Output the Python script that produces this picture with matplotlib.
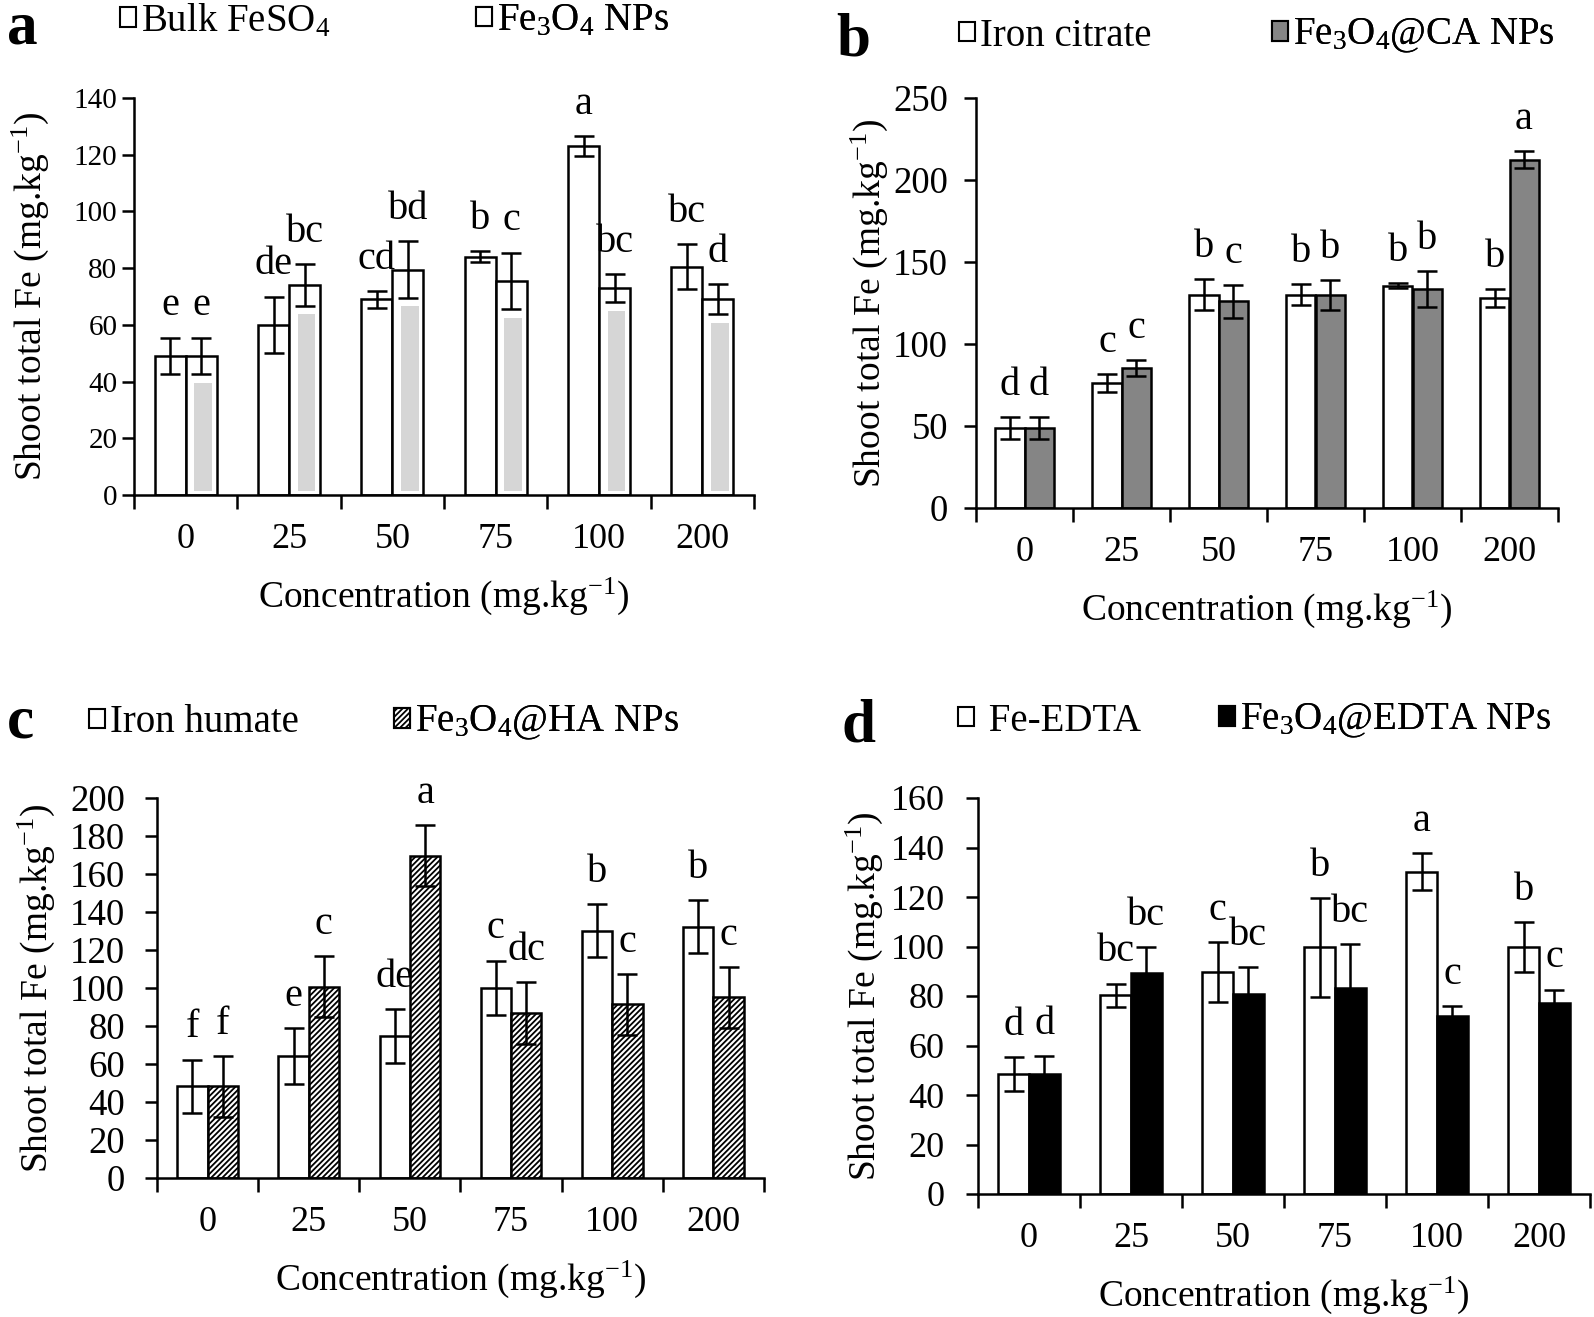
import matplotlib
matplotlib.use('Agg')
import matplotlib.pyplot as plt
import numpy as np
from matplotlib.patches import Patch

plt.rcParams['font.family'] = ['Liberation Serif', 'DejaVu Serif']
plt.rcParams['mathtext.fontset'] = 'custom'
plt.rcParams['mathtext.rm'] = 'Liberation Serif'
plt.rcParams['mathtext.it'] = 'Liberation Serif:italic'
plt.rcParams['mathtext.bf'] = 'Liberation Serif:bold'
plt.rcParams['hatch.linewidth'] = 1.3

categories = ['0', '25', '50', '75', '100', '200']

a_bulk = [49, 60, 69, 84, 123, 80.5]
a_bulk_err = [6.5, 10, 3, 2, 3.5, 8]
a_np = [49, 74, 79.5, 75.5, 73, 69]
a_np_err = [6.5, 7.3, 10, 10, 5, 5.3]
a_bulk_lab = ['e', 'de', 'cd', 'b', 'a', 'bc']
a_np_lab = ['e', 'bc', 'bd', 'c', 'bc', 'd']

b_cit = [48.8, 76, 130, 130, 135.5, 128]
b_cit_err = [6.7, 5.5, 9.5, 6.5, 1.5, 5.3]
b_ca = [48.8, 85.4, 126, 130, 133.5, 212.4]
b_ca_err = [6.7, 5, 10, 9, 11, 5]
b_cit_lab = ['d', 'c', 'b', 'b', 'b', 'b']
b_ca_lab = ['d', 'c', 'c', 'b', 'b', 'a']

c_hum = [48.3, 64.1, 74.7, 100.2, 130.2, 132.3]
c_hum_err = [14, 14.8, 14.2, 14.2, 14.1, 14]
c_ha = [48.3, 100.7, 169.6, 87, 91.4, 95.1]
c_ha_err = [16, 16, 16, 16.3, 16, 16]
c_hum_lab = ['f', 'e', 'de', 'c', 'b', 'b']
c_ha_lab = ['f', 'c', 'a', 'dc', 'c', 'c']

d_edta = [48.6, 80.3, 89.7, 99.7, 130.2, 99.7]
d_edta_err = [6.8, 4.7, 12, 20, 7.4, 10]
d_np = [48.6, 89.1, 81, 83.2, 71.8, 77]
d_np_err = [7, 10.5, 10.8, 17.7, 4.2, 5.6]
d_edta_lab = ['d', 'bc', 'c', 'b', 'a', 'b']
d_np_lab = ['d', 'bc', 'bc', 'bc', 'c', 'c']

W, H = 1594, 1317
fig = plt.figure(figsize=(W / 100, H / 100), dpi=100)

XTICK_FS = 26
LAB_FS = 27
LET_FS = 29
LEG_FS = 28
PANEL_FS = 44
BW = 0.3
LW = 1.8


def make_axes(left, top, right, bottom):
    return fig.add_axes([left / W, 1 - bottom / H, (right - left) / W, (bottom - top) / H])


def style_axes(ax, ymax, ystep, ylab_off, ytick_fs, ytick_pad):
    ax.set_xlim(-0.5, len(categories) - 0.5)
    ax.set_ylim(0, ymax)
    ax.set_yticks(np.arange(0, ymax + 1, ystep))
    ax.set_xticks(np.arange(len(categories)))
    ax.set_xticklabels(categories, fontsize=XTICK_FS)
    ax.set_xticks(np.arange(-0.5, len(categories)), minor=True)
    ax.tick_params(axis='x', which='major', length=0, pad=20)
    ax.tick_params(axis='x', which='minor', length=10, width=LW, direction='out')
    ax.tick_params(axis='y', length=9, width=LW, direction='out',
                   labelsize=ytick_fs, pad=ytick_pad)
    for s in ['top', 'right']:
        ax.spines[s].set_visible(False)
    for s in ['left', 'bottom']:
        ax.spines[s].set_linewidth(LW)
    ax.set_xlabel('Concentration (mg.kg$^{-1}$)', fontsize=LAB_FS, labelpad=14)
    ax.set_ylabel('Shoot total Fe (mg.kg$^{-1}$)', fontsize=LAB_FS, va='center')
    bbox = ax.get_position()
    ax.yaxis.set_label_coords(-ylab_off / (bbox.width * W), 0.5)


def draw_pair(ax, v1, e1, v2, e2, l1, l2, kw2, kw1=None):
    x = np.arange(len(categories))
    kw1 = kw1 or dict(facecolor='white')
    ax.bar(x - BW / 2, v1, BW, edgecolor='black', linewidth=LW, zorder=2, **kw1)
    ax.bar(x + BW / 2, v2, BW, edgecolor='black', linewidth=LW, zorder=2, **kw2)
    ekw = dict(fmt='none', ecolor='black', elinewidth=LW, capsize=7, capthick=LW, zorder=4)
    ax.errorbar(x - BW / 2, v1, yerr=e1, **ekw)
    ax.errorbar(x + BW / 2, v2, yerr=e2, **ekw)
    for xi, v, e, t in zip(x - BW / 2, v1, e1, l1):
        ax.annotate(t, (xi, v + e), xytext=(0, 16), textcoords='offset points',
                    ha='center', va='baseline', fontsize=LET_FS)
    for xi, v, e, t in zip(x + BW / 2, v2, e2, l2):
        ax.annotate(t, (xi, v + e), xytext=(0, 16), textcoords='offset points',
                    ha='center', va='baseline', fontsize=LET_FS)


def legend_entry(ax, handle, label, xpx, ypx):
    lg = ax.legend([handle], [label], loc='center left',
                   bbox_to_anchor=(xpx / W, 1 - ypx / H), bbox_transform=fig.transFigure,
                   frameon=False, fontsize=LEG_FS, handlelength=0.4, handleheight=0.4,
                   handletextpad=0.15, borderpad=0, borderaxespad=0)
    ax.add_artist(lg)


def panel_letter(ch, xpx, ypx):
    fig.text(xpx / W, 1 - ypx / H, ch, fontsize=PANEL_FS, fontweight='bold',
             ha='left', va='baseline')


# ---- panel a ----
ax = make_axes(134, 98, 754, 495)
draw_pair(ax, a_bulk, a_bulk_err, a_np, a_np_err, a_bulk_lab, a_np_lab,
          dict(facecolor='white'))
x = np.arange(len(categories))
inner = np.array(a_np) - np.array(a_np_err) - 3.0
ax.bar(x + BW / 2 + 0.02, inner - 1.5, 0.17, bottom=1.5, color='#d6d6d6',
       edgecolor='none', zorder=3)
style_axes(ax, 140, 20, 104, 21, 3)
legend_entry(ax, Patch(facecolor='white', edgecolor='black', linewidth=1.5),
             'Bulk FeSO$_4$', 120, 21)
legend_entry(ax, Patch(facecolor='white', edgecolor='black', linewidth=1.5),
             'Fe$_3$O$_4$ NPs', 476, 21)
panel_letter('a', 7, 43)

# ---- panel b ----
ax = make_axes(976, 98, 1558, 508)
draw_pair(ax, b_cit, b_cit_err, b_ca, b_ca_err, b_cit_lab, b_ca_lab,
          dict(facecolor='#858585'))
style_axes(ax, 250, 50, 107, 26.5, 11)
legend_entry(ax, Patch(facecolor='white', edgecolor='black', linewidth=1.5),
             'Iron citrate', 959, 36)
legend_entry(ax, Patch(facecolor='#858585', edgecolor='black', linewidth=1.5),
             'Fe$_3$O$_4$@CA NPs', 1272, 36)
panel_letter('b', 836, 56)

# ---- panel c ----
ax = make_axes(157, 798, 764, 1178)
draw_pair(ax, c_hum, c_hum_err, c_ha, c_ha_err, c_hum_lab, c_ha_lab,
          dict(facecolor='white', hatch='//////'))
style_axes(ax, 200, 20, 121, 26.5, 14)
legend_entry(ax, Patch(facecolor='white', edgecolor='black', linewidth=1.5),
             'Iron humate', 89, 723)
legend_entry(ax, Patch(facecolor='white', edgecolor='black', linewidth=1.5, hatch='//////'),
             'Fe$_3$O$_4$@HA NPs', 394, 723)
panel_letter('c', 7, 737)

# ---- panel d ----
ax = make_axes(978, 798, 1590, 1194)
draw_pair(ax, d_edta, d_edta_err, d_np, d_np_err, d_edta_lab, d_np_lab,
          dict(facecolor='black'))
style_axes(ax, 160, 20, 114, 26, 15)
legend_entry(ax, Patch(facecolor='white', edgecolor='black', linewidth=1.5),
             ' Fe-EDTA', 958, 721)
legend_entry(ax, Patch(facecolor='black', edgecolor='black', linewidth=1.5),
             'Fe$_3$O$_4$@EDTA NPs', 1219, 721)
panel_letter('d', 841, 742)

fig.savefig('out.png', dpi=100)
